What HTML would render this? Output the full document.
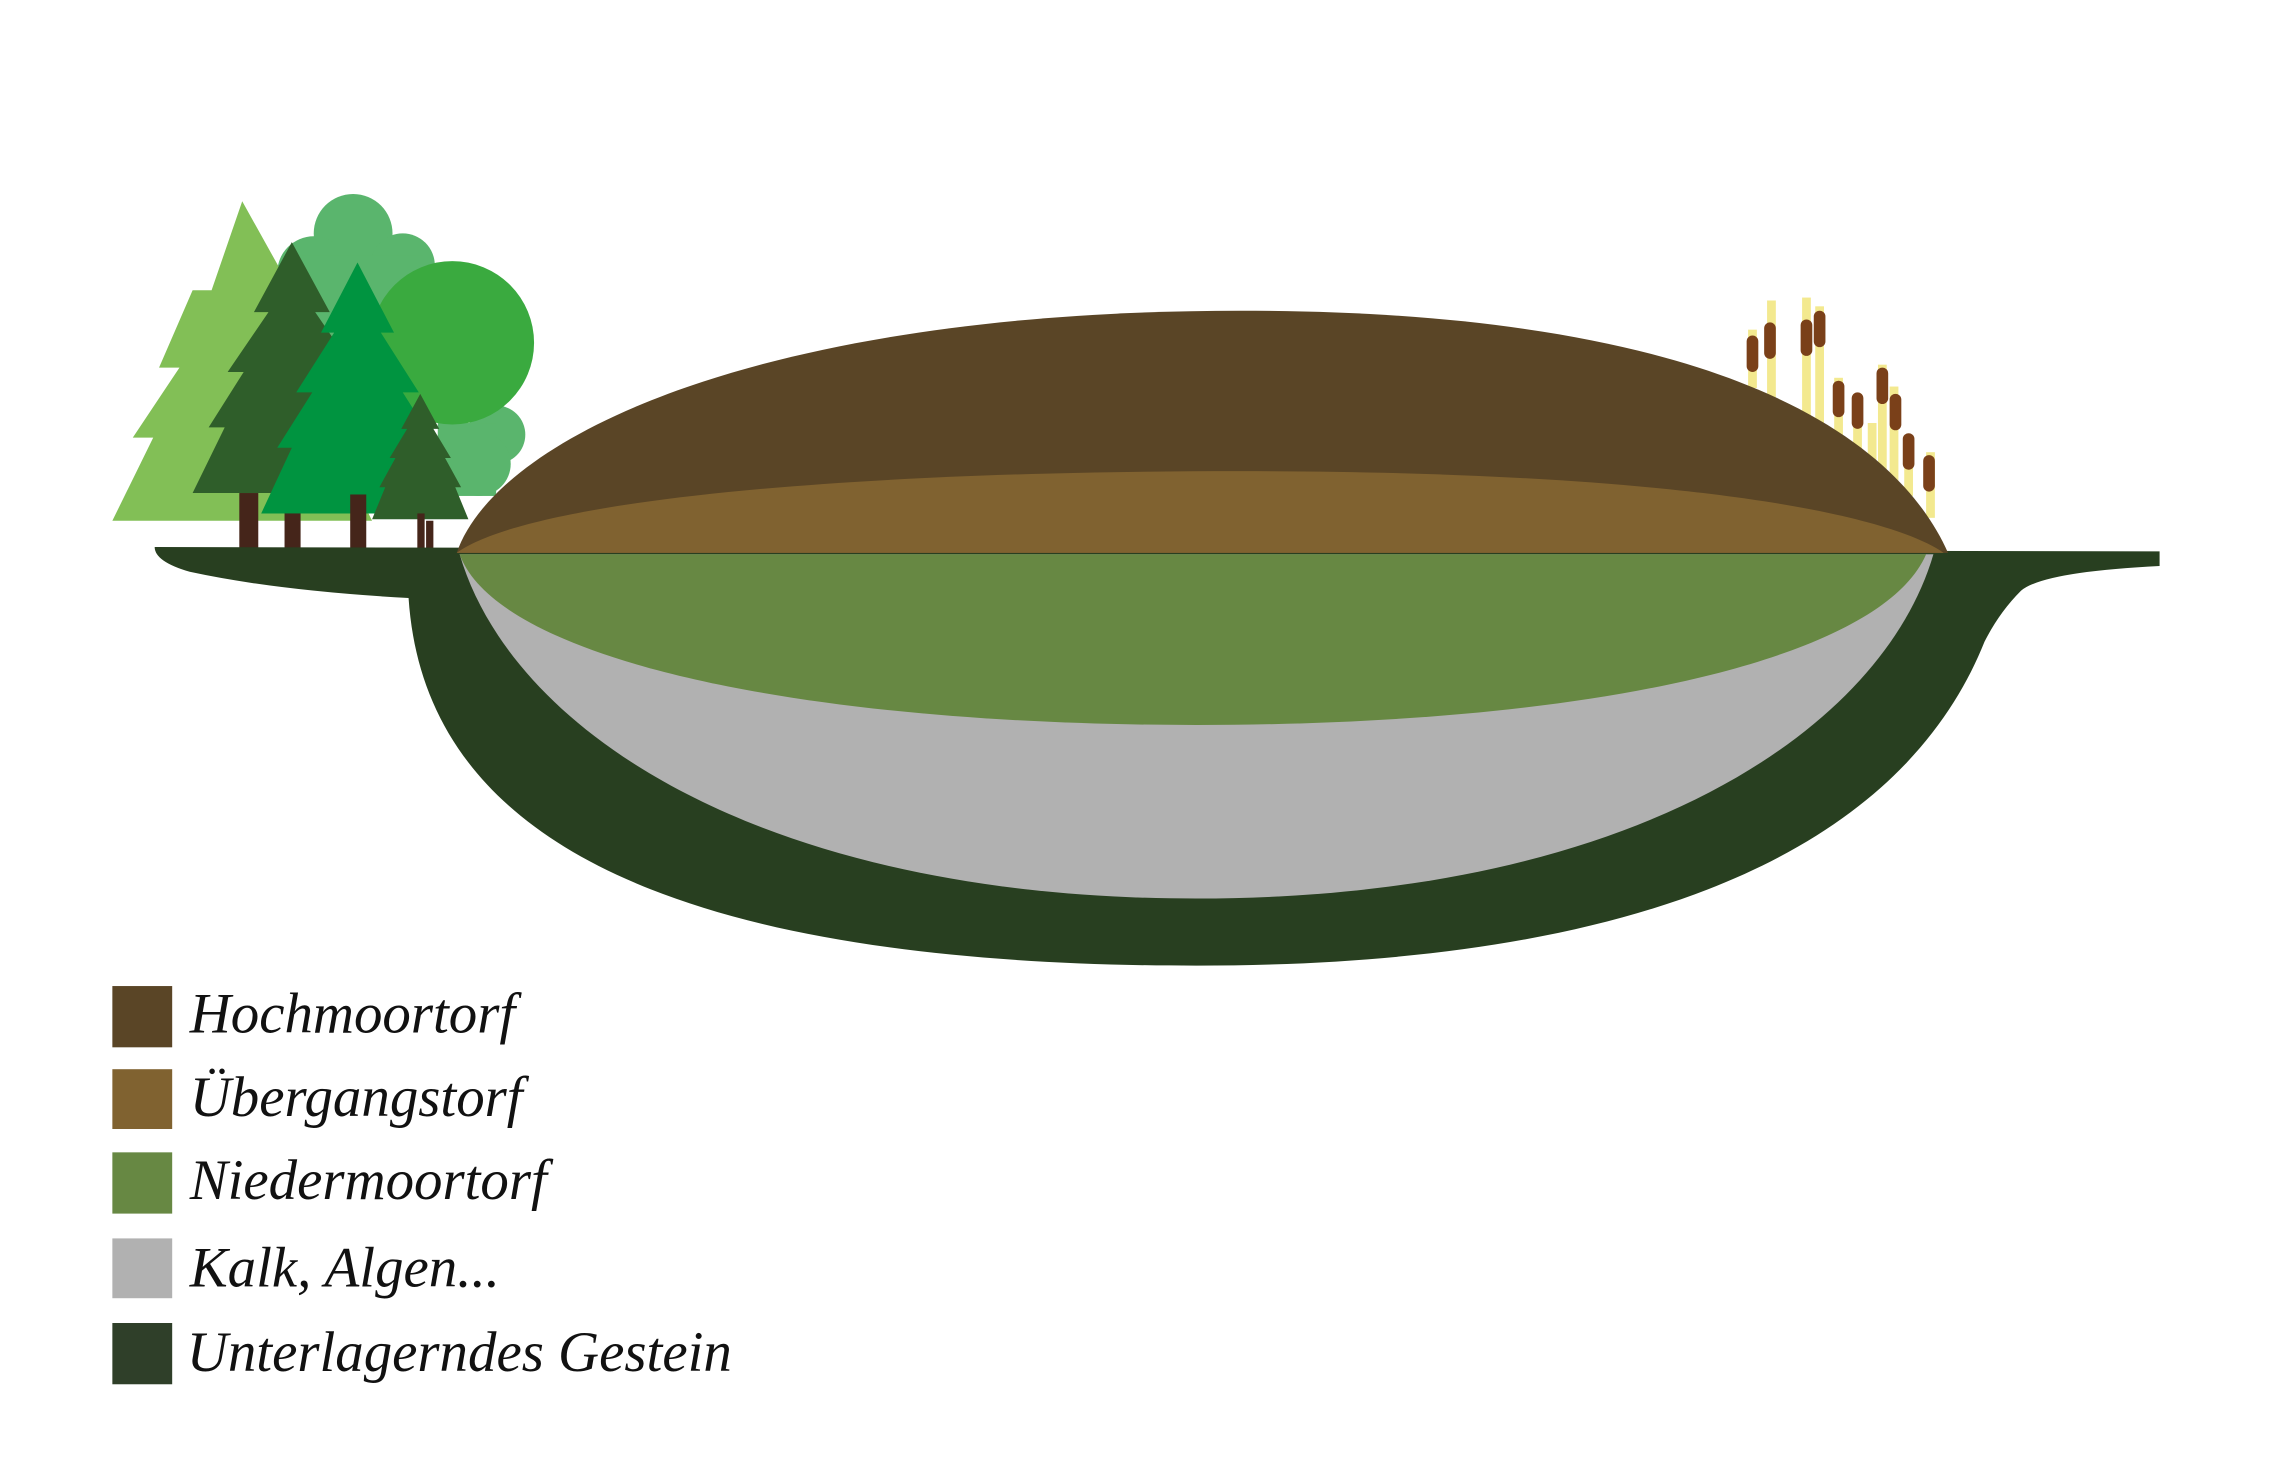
<!DOCTYPE html>
<html><head><meta charset="utf-8"><style>
html,body{margin:0;padding:0;background:#fff;}
svg{display:block;}
</style></head><body>
<svg width="2288" height="1482" viewBox="0 0 1568 1016" preserveAspectRatio="none" xmlns="http://www.w3.org/2000/svg">
<rect width="1568" height="1016" fill="#fff"/>
<g fill="#5ab56d">
<circle cx="242" cy="160" r="27"/><circle cx="276" cy="182" r="22"/><circle cx="215" cy="187" r="25"/>
<rect x="200" y="175" width="90" height="120"/>
<circle cx="340" cy="298" r="20"/><circle cx="328" cy="318" r="22"/><rect x="300" y="290" width="40" height="50"/>
</g>
<circle cx="310" cy="235" r="56" fill="#3aaa3f"/>
<polygon fill="#82bf56" points="166,138 200,199 187,199 223,252 209,252 241,300 227,300 255,357 77,357 105,300 91,300 123,252 109,252 132,199 145,199"/>
<polygon fill="#2f5e2a" points="200,166 226,214 216,214 244,255 233,255 257,293 246,293 268,338 132,338 154,293 143,293 167,255 156,255 184,214 174,214"/>
<polygon fill="#009440" points="245,180 270,228 261,228 287,269 276,269 300,307 290,307 311,352 179,352 200,307 190,307 214,269 203,269 229,228 220,228"/>
<polygon fill="#2f5e2a" points="288,270 301,294 297,294 309,314 305,314 316,334 312,334 321,356 255,356 264,334 260,334 271,314 267,314 279,294 275,294"/>
<g fill="#45251a">
<rect x="164" y="338" width="13" height="40"/><rect x="195" y="352" width="11" height="26"/>
<rect x="240" y="339" width="11" height="39"/><rect x="286" y="352" width="5" height="26"/><rect x="292" y="357" width="5" height="21"/>
</g>
<g fill="#f3e98f">
<rect x="1198" y="226" width="6" height="40"/><rect x="1211" y="206" width="6" height="70"/>
<rect x="1235" y="204" width="6" height="90"/><rect x="1244" y="210" width="6" height="100"/>
<rect x="1257" y="259" width="6" height="40"/><rect x="1270" y="270" width="6" height="40"/>
<rect x="1280" y="290" width="6" height="30"/><rect x="1287" y="250" width="6" height="80"/>
<rect x="1295" y="265" width="6" height="80"/><rect x="1305" y="300" width="6" height="40"/>
<rect x="1320" y="310" width="6" height="45"/>
</g>
<g fill="#7a4019">
<rect x="1197" y="230" width="8" height="25" rx="4"/><rect x="1209" y="221" width="8" height="25" rx="4"/>
<rect x="1234" y="219" width="8" height="25" rx="4"/><rect x="1243" y="213" width="8" height="25" rx="4"/>
<rect x="1256" y="261" width="8" height="25" rx="4"/><rect x="1269" y="269" width="8" height="25" rx="4"/>
<rect x="1286" y="252" width="8" height="25" rx="4"/><rect x="1295" y="270" width="8" height="25" rx="4"/>
<rect x="1304" y="297" width="8" height="25" rx="4"/><rect x="1318" y="312" width="8" height="25" rx="4"/>
</g>
<path fill="#283f20" d="M106,375 L1480,378 L1480,388 Q1400,392 1385,405 Q1370,420 1360,440 C1320,540 1200,662 820,662 C430,662 290,560 280,410 Q190,405 130,392 Q106,385 106,375 Z"/>
<path fill="#b1b1b1" d="M315,380 L1325,380 C1290,500 1120,616 820,616 C520,616 350,500 315,380 Z"/>
<path fill="#678843" d="M315,380 L1320,380 C1290,450 1100,497 820,497 C540,497 340,450 315,380 Z"/>
<path fill="#5a4526" d="M313,379 C340,300 520,213 850,213 C1180,213 1300,300 1335,379 Z"/>
<path fill="#806230" d="M313,379 C360,345 560,323 850,323 C1140,323 1290,350 1332,379 Z"/>
<rect x="77" y="676" width="41" height="42" fill="#5a4526"/>
<rect x="77" y="733" width="41" height="41" fill="#806230"/>
<rect x="77" y="790" width="41" height="42" fill="#678843"/>
<rect x="77" y="849" width="41" height="41" fill="#b1b1b1"/>
<rect x="77" y="907" width="41" height="42" fill="#2f3f29"/>
<g font-family="Liberation Serif, serif" font-style="italic" font-size="39" fill="#111">
<text x="130" y="708">Hochmoortorf</text>
<text x="130" y="765">Übergangstorf</text>
<text x="130" y="822">Niedermoortorf</text>
<text x="130" y="882">Kalk, Algen...</text>
<text x="128" y="940">Unterlagerndes Gestein</text>
</g>
</svg>
</body></html>
